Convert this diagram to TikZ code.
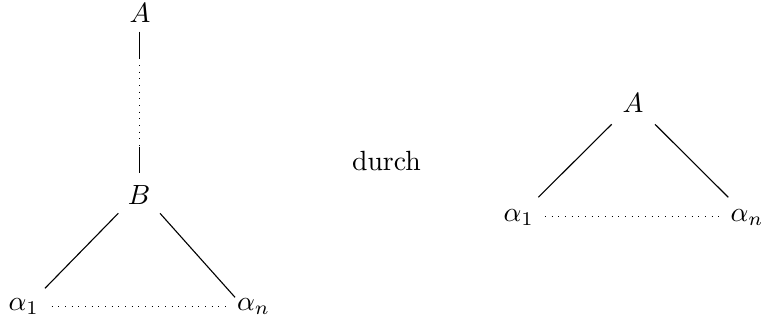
\documentclass[tikz,border=0pt]{standalone}
\begin{document}
\begin{tikzpicture}[x=0.36pt,y=-0.36pt,
  lbl/.style={inner sep=0pt,anchor=base},
  edge/.style={line width=0.4pt},
  dots/.style={dotted,line width=0.4pt}]
\useasboundingbox (0,0) rectangle (762,324);
% left tree
\node[lbl] (A1) at (140,22.7) {$A$};
\node[lbl] (B) at (139,205) {$B$};
\node[lbl,anchor=base west] (L1) at (8,310.7) {$\alpha_1$};
\node[lbl,anchor=base west] (Ln) at (236.5,310.7) {$\alpha_n$};
\coordinate (v1) at (139.3,31.7);
\coordinate (v2) at (139.3,58.3);
\coordinate (v3) at (139.3,146.7);
\coordinate (v4) at (139.3,173.3);
\draw[edge] (v1) -- (v2);
\draw[dots] (v2) -- (v3);
\draw[edge] (v3) -- (v4);
\coordinate (bl1) at (118.3,213.3);
\coordinate (bl2) at (45,288.3);
\coordinate (br1) at (160,213.3);
\coordinate (br2) at (235,297.3);
\draw[edge] (bl1) -- (bl2);
\draw[edge] (br1) -- (br2);
\coordinate (d1) at (51.7,306.3);
\coordinate (d2) at (226,306.3);
\draw[dots] (d1) -- (d2);
% middle
\node[lbl] (D) at (386.5,171) {durch};
% right tree
\node[lbl] (A2) at (633,113) {$A$};
\node[lbl,anchor=base west] (R1) at (503,221.7) {$\alpha_1$};
\node[lbl,anchor=base west] (Rn) at (730,221.7) {$\alpha_n$};
\coordinate (al1) at (611.7,124.3);
\coordinate (al2) at (538.3,197.3);
\coordinate (ar1) at (655,124.3);
\coordinate (ar2) at (728.3,197.3);
\draw[edge] (al1) -- (al2);
\draw[edge] (ar1) -- (ar2);
\coordinate (e1) at (545,216.5);
\coordinate (e2) at (719,216.5);
\draw[dots] (e1) -- (e2);
\end{tikzpicture}
\end{document}
